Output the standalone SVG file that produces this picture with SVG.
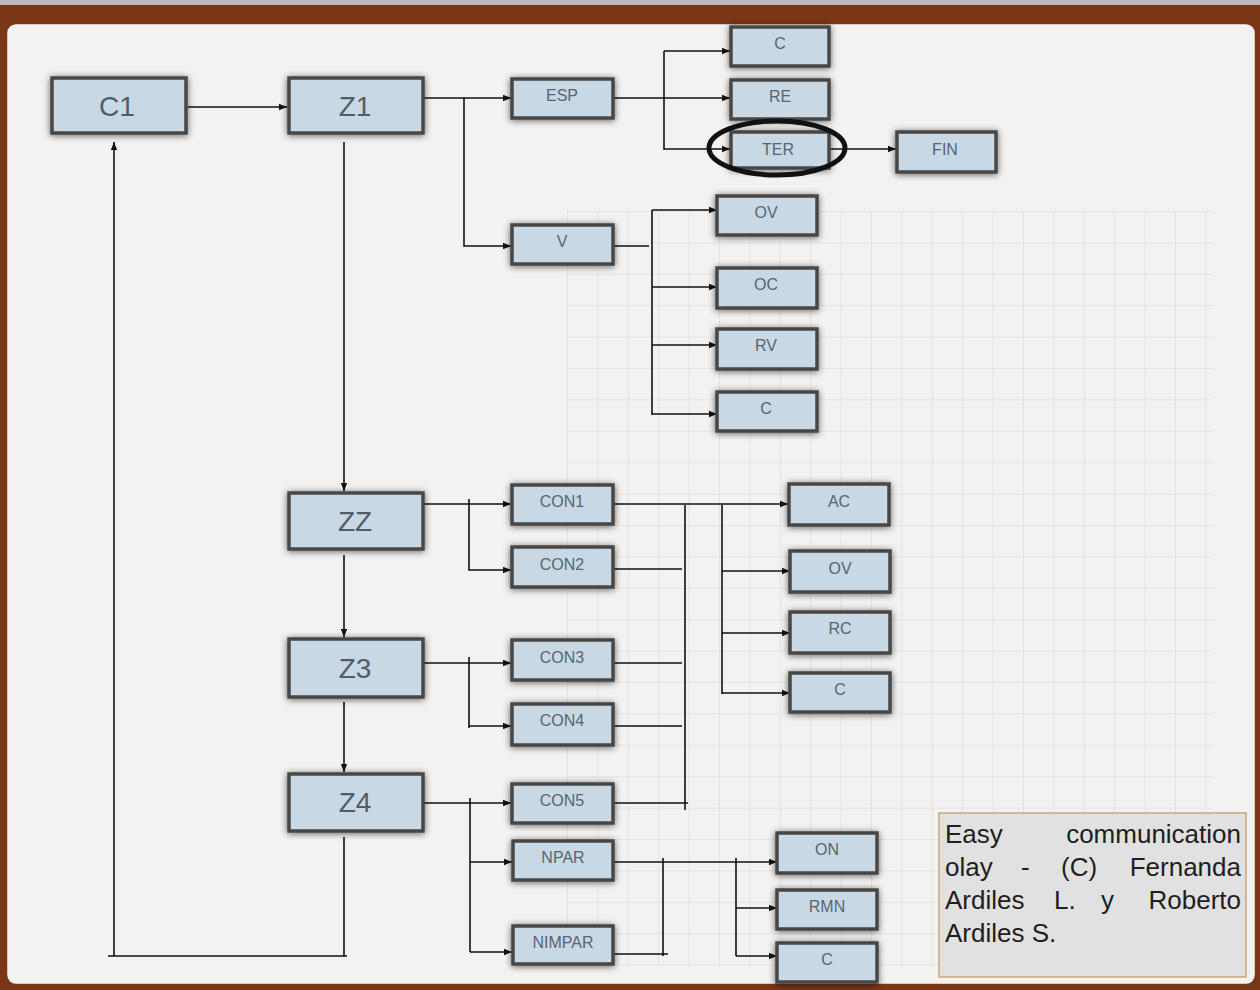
<svg xmlns="http://www.w3.org/2000/svg" width="1260" height="990" viewBox="0 0 1260 990">
<defs>
<style>
.box{fill:#c8d8e4;stroke:#474747;stroke-width:3.5;filter:url(#sh)}
.lg{font-family:"Liberation Sans",Arial,sans-serif;font-size:28px;fill:#525d67;text-anchor:middle}
.sm{font-family:"Liberation Sans",Arial,sans-serif;font-size:16px;fill:#5a6570;text-anchor:middle}
.ln{fill:none;stroke:#111;stroke-width:1.6}
.ar{marker-end:url(#ah)}
.note{font-family:"Liberation Sans",Arial,sans-serif;font-size:26px;fill:#1e1e1e}
</style>
<filter id="sh" x="-20%" y="-30%" width="140%" height="160%">
<feGaussianBlur in="SourceAlpha" stdDeviation="3.5"/>
<feOffset dx="0" dy="1" result="b"/>
<feComponentTransfer><feFuncA type="linear" slope="0.6"/></feComponentTransfer>
<feMerge><feMergeNode/><feMergeNode in="SourceGraphic"/></feMerge>
</filter>
<marker id="ah" viewBox="0 0 10 10" refX="10" refY="5" markerWidth="5" markerHeight="5" orient="auto" markerUnits="strokeWidth">
<path d="M0,1 L10,5 L0,9 z" fill="#111"/>
</marker>
<pattern id="grid" x="567" y="211" width="30.4" height="31.4" patternUnits="userSpaceOnUse">
<path d="M0,0 H30.4 M0,0 V31.4" fill="none" stroke="#d2d2d2" stroke-width="1"/>
</pattern>
</defs>

<!-- frame -->
<rect x="0" y="0" width="1260" height="990" fill="#7a3717"/>
<rect x="0" y="0" width="1260" height="5" fill="#b9b9b9"/>
<rect x="8" y="25" width="1246" height="958" rx="8" fill="#f3f2f0" stroke="#faf6f2" stroke-width="1.5"/>
<rect x="567" y="211" width="646" height="755" fill="url(#grid)" opacity="0.9"/>

<g id="connectors">
<path class="ln ar" d="M188,107 H287"/>
<path class="ln ar" d="M114,956 V142"/>
<path class="ln" d="M344,837 V956 M108,956 H347"/>
<path class="ln ar" d="M344,142 V491"/>
<path class="ln ar" d="M344,555 V637"/>
<path class="ln ar" d="M344,702 V772"/>
<path class="ln ar" d="M424,98 H511"/>
<path class="ln ar" d="M464,98 V246 H511"/>
<path class="ln ar" d="M613,98 H730"/>
<path class="ln" d="M664,51 V150"/>
<path class="ln ar" d="M664,51 H730"/>
<path class="ln ar" d="M664,149 H730"/>
<path class="ln ar" d="M829,149 H896"/>
<path class="ln" d="M613,246 H649 M652,210 V415"/>
<path class="ln ar" d="M652,210 H717"/>
<path class="ln ar" d="M652,287 H717"/>
<path class="ln ar" d="M652,345 H717"/>
<path class="ln ar" d="M652,414 H717"/>
<path class="ln ar" d="M423,504 H511"/>
<path class="ln ar" d="M469,499 V570 H511"/>
<path class="ln ar" d="M423,663 H511"/>
<path class="ln" d="M469,657 V728"/>
<path class="ln ar" d="M469,726 H511"/>
<path class="ln ar" d="M423,803 H511"/>
<path class="ln" d="M470,798 V952"/>
<path class="ln ar" d="M470,862 H512"/>
<path class="ln ar" d="M470,952 H512"/>
<path class="ln ar" d="M613,504 H788"/>
<path class="ln" d="M685,505 V810 M722,505 V694"/>
<path class="ln ar" d="M722,571 H790"/>
<path class="ln ar" d="M722,633 H790"/>
<path class="ln ar" d="M722,693 H790"/>
<path class="ln" d="M613,569 H682 M613,663 H682 M613,726 H682 M613,803 H688"/>
<path class="ln ar" d="M613,862 H777"/>
<path class="ln" d="M663,858 V956 M613,954 H668 M736,858 V956"/>
<path class="ln ar" d="M736,908 H777"/>
<path class="ln ar" d="M736,956 H777"/>
</g>

<g id="n-c1"><rect class="box" x="52" y="78" width="134" height="55"/><text class="lg" x="117" y="116">C1</text></g>
<g id="n-z1"><rect class="box" x="289" y="78" width="134" height="55"/><text class="lg" x="355" y="116">Z1</text></g>
<g id="n-zz"><rect class="box" x="289" y="493" width="134" height="56"/><text class="lg" x="355" y="531">ZZ</text></g>
<g id="n-z3"><rect class="box" x="289" y="639" width="134" height="58"/><text class="lg" x="355" y="678">Z3</text></g>
<g id="n-z4"><rect class="box" x="289" y="774" width="134" height="57"/><text class="lg" x="355" y="812">Z4</text></g>

<g id="n-esp"><rect class="box" x="512" y="79" width="101" height="39"/><text class="sm" x="562" y="101">ESP</text></g>
<g id="n-v"><rect class="box" x="512" y="225" width="101" height="39"/><text class="sm" x="562" y="247">V</text></g>
<g id="n-con1"><rect class="box" x="512" y="485" width="101" height="39"/><text class="sm" x="562" y="507">CON1</text></g>
<g id="n-con2"><rect class="box" x="512" y="547" width="101" height="40"/><text class="sm" x="562" y="570">CON2</text></g>
<g id="n-con3"><rect class="box" x="512" y="640" width="101" height="40"/><text class="sm" x="562" y="663">CON3</text></g>
<g id="n-con4"><rect class="box" x="512" y="704" width="101" height="41"/><text class="sm" x="562" y="726">CON4</text></g>
<g id="n-con5"><rect class="box" x="512" y="784" width="101" height="39"/><text class="sm" x="562" y="806">CON5</text></g>
<g id="n-npar"><rect class="box" x="513" y="841" width="100" height="39"/><text class="sm" x="563" y="863">NPAR</text></g>
<g id="n-nimpar"><rect class="box" x="513" y="926" width="100" height="38"/><text class="sm" x="563" y="948">NIMPAR</text></g>

<g id="n-c-top"><rect class="box" x="731" y="27" width="98" height="39"/><text class="sm" x="780" y="49">C</text></g>
<g id="n-re"><rect class="box" x="731" y="80" width="98" height="39"/><text class="sm" x="780" y="102">RE</text></g>
<g id="n-ter"><rect class="box" x="731" y="132" width="98" height="36"/><text class="sm" x="778" y="155">TER</text>
<ellipse cx="777" cy="148" rx="68" ry="27" fill="none" stroke="#111" stroke-width="5"/></g>
<g id="n-fin"><rect class="box" x="897" y="132" width="99" height="40"/><text class="sm" x="945" y="155">FIN</text></g>

<g id="n-ov1"><rect class="box" x="717" y="196" width="100" height="39"/><text class="sm" x="766" y="218">OV</text></g>
<g id="n-oc"><rect class="box" x="717" y="268" width="100" height="40"/><text class="sm" x="766" y="290">OC</text></g>
<g id="n-rv"><rect class="box" x="717" y="329" width="100" height="40"/><text class="sm" x="766" y="351">RV</text></g>
<g id="n-c-v"><rect class="box" x="717" y="392" width="100" height="39"/><text class="sm" x="766" y="414">C</text></g>

<g id="n-ac"><rect class="box" x="789" y="484" width="100" height="41"/><text class="sm" x="839" y="507">AC</text></g>
<g id="n-ov2"><rect class="box" x="790" y="551" width="100" height="41"/><text class="sm" x="840" y="574">OV</text></g>
<g id="n-rc"><rect class="box" x="790" y="612" width="100" height="41"/><text class="sm" x="840" y="634">RC</text></g>
<g id="n-c-con"><rect class="box" x="790" y="673" width="100" height="39"/><text class="sm" x="840" y="695">C</text></g>

<g id="n-on"><rect class="box" x="777" y="833" width="100" height="40"/><text class="sm" x="827" y="855">ON</text></g>
<g id="n-rmn"><rect class="box" x="777" y="890" width="100" height="39"/><text class="sm" x="827" y="912">RMN</text></g>
<g id="n-c-bot"><rect class="box" x="777" y="943" width="100" height="39"/><text class="sm" x="827" y="965">C</text></g>

<g id="note">
<rect x="939" y="813" width="307" height="164" fill="#e1e1e1" stroke="#c9a57c" stroke-width="1.5"/>
<text class="note"><tspan x="945" y="843">Easy</tspan><tspan x="1241" y="843" text-anchor="end">communication</tspan><tspan x="945" y="876">olay</tspan><tspan x="1021" y="876">-</tspan><tspan x="1061" y="876">(C)</tspan><tspan x="1241" y="876" text-anchor="end">Fernanda</tspan><tspan x="945" y="909">Ardiles</tspan><tspan x="1054" y="909">L.</tspan><tspan x="1101" y="909">y</tspan><tspan x="1241" y="909" text-anchor="end">Roberto</tspan><tspan x="945" y="942">Ardiles S.</tspan></text>
</g>
</svg>
